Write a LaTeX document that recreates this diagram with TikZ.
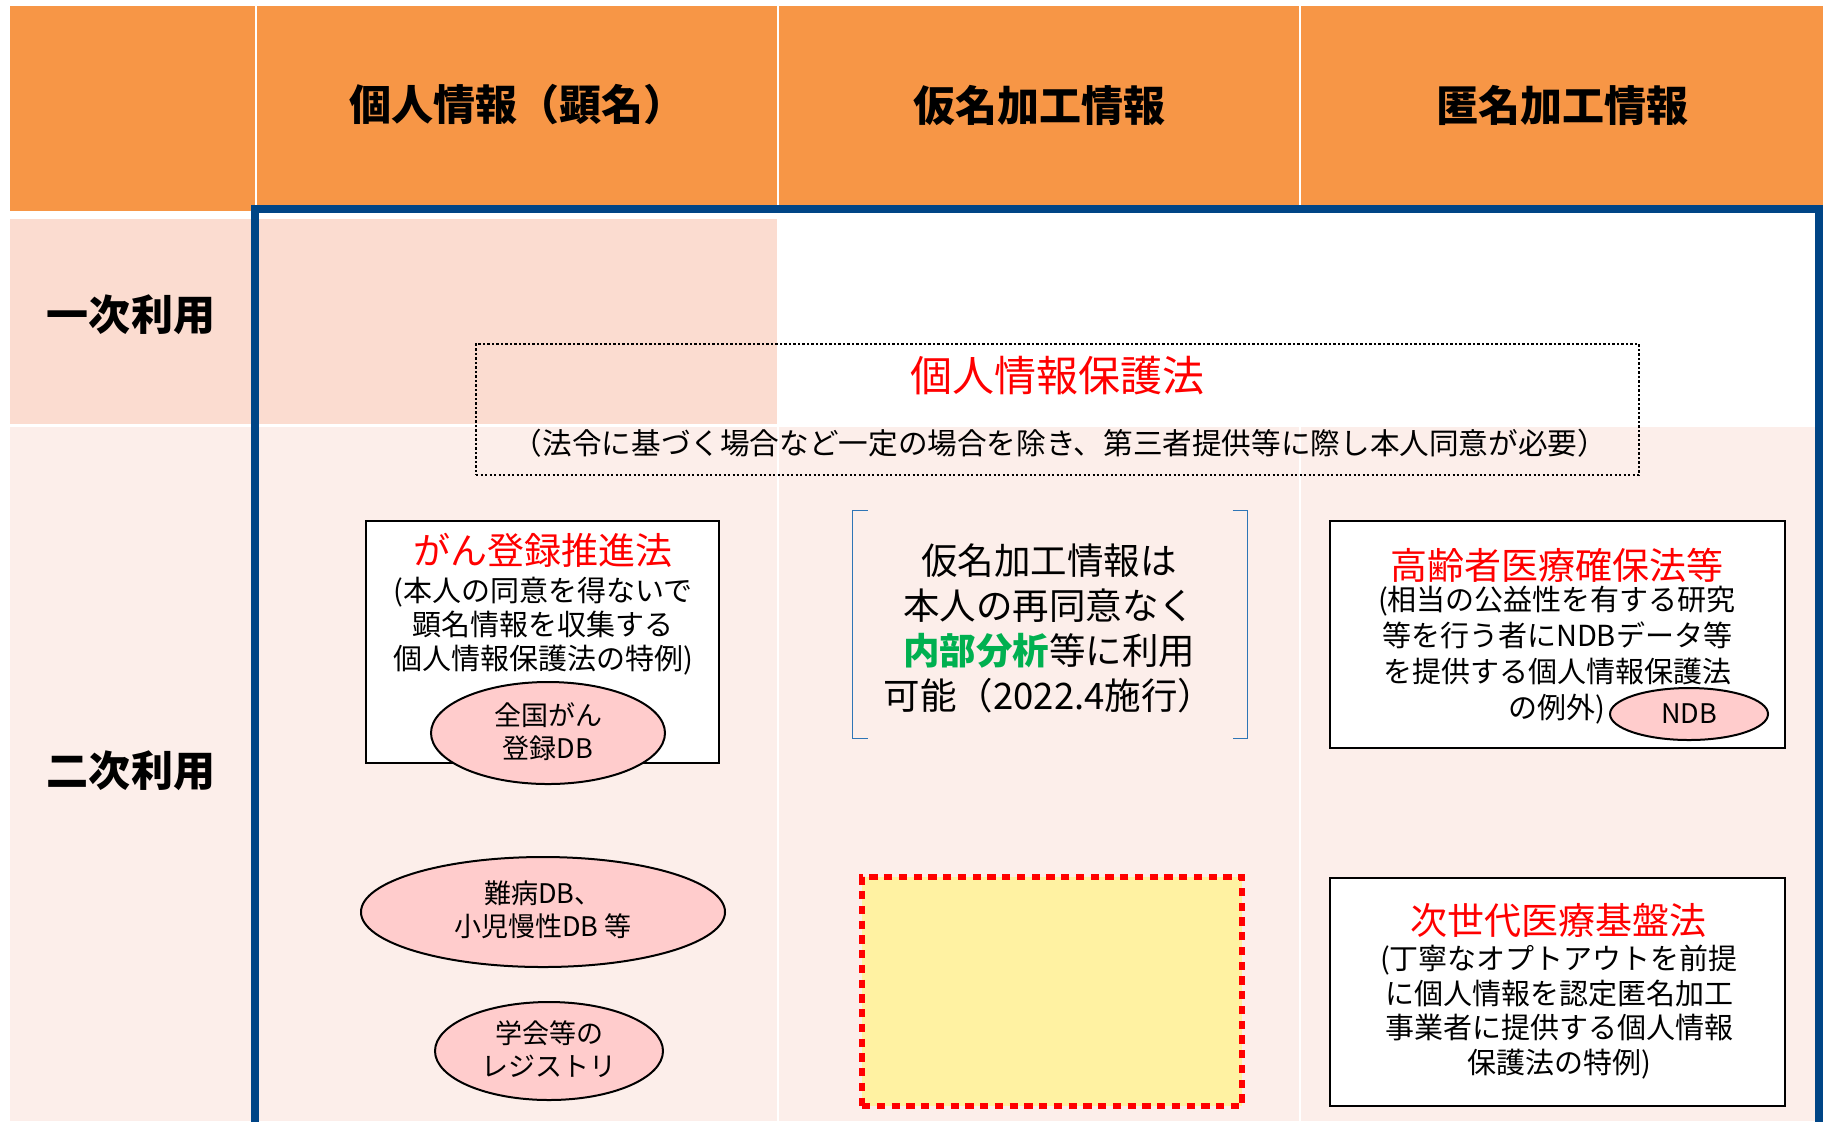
\documentclass[tikz,border=0pt]{standalone}
\usepackage{fontspec}
\setmainfont{Noto Sans CJK JP}
\usetikzlibrary{shapes.geometric}
\definecolor{hdrorange}{HTML}{F79646}
\definecolor{salmon}{HTML}{FBDCD0}
\definecolor{pinkbg}{HTML}{FCEEEA}
\definecolor{borderblue}{RGB}{0,69,134}
\definecolor{dbpink}{HTML}{FFCCCC}
\definecolor{lightyellow}{HTML}{FFF2A2}
\definecolor{lawred}{RGB}{255,0,0}
\definecolor{anagreen}{RGB}{0,176,80}
\definecolor{brkblue}{HTML}{2E75B6}
\tikzset{
  hdrtext/.style={inner sep=0, font=\bfseries\fontsize{16.8}{20}\selectfont},
  redtitle/.style={inner sep=0, text=lawred, font=\fontsize{14.8}{17}\selectfont},
  bodytext/.style={inner sep=0, align=center, font=\fontsize{11.6}{14.4}\selectfont},
  lawbox/.style={draw=black, line width=1pt, fill=white, inner sep=0},
  dbell/.style={ellipse, draw=black, line width=0.8pt, fill=dbpink, inner sep=0},
  dbtext/.style={inner sep=0, align=center, font=\fontsize{10.8}{13.4}\selectfont},
}
\begin{document}
\begin{tikzpicture}[x=0.4pt,y=-0.4pt]
\useasboundingbox (0,0) rectangle (1823,1121);
% header band
\fill[hdrorange] (10,6) rectangle (255,211);
\fill[hdrorange] (257,6) rectangle (777,211);
\fill[hdrorange] (779,6) rectangle (1299,211);
\fill[hdrorange] (1301,6) rectangle (1823,211);
% row 1
\fill[salmon] (10,219) rectangle (253,424);
\fill[salmon] (257,219) rectangle (777,424);
% row 2
\fill[pinkbg] (10,427) rectangle (254,1121);
\fill[pinkbg] (257,427) rectangle (777,1121);
\fill[pinkbg] (779,427) rectangle (1299,1121);
\fill[pinkbg] (1301,427) rectangle (1823,1121);
% blue frame
\draw[borderblue, line width=3pt] (255,1125) -- (255,209) -- (1819,209) -- (1819,1125);
% header texts
\node[hdrtext] (h1) at (517,105) {個人情報（顕名）};
\node[hdrtext] (h2) at (1039,105) {仮名加工情報};
\node[hdrtext] (h3) at (1562,105) {匿名加工情報};
\node[hdrtext] (r1) at (131,315) {一次利用};
\node[hdrtext] (r2) at (131,771) {二次利用};
% personal information protection law box
\node[draw=black, line width=0.6pt, dash pattern=on 0.9pt off 0.9pt, minimum width=465.2pt, minimum height=52.4pt, inner sep=0] (ppl) at (1057.5,409.5) {};
\node[inner sep=0, text=lawred, font=\fontsize{16.8}{20}\selectfont] (pplt) at (1057,376) {個人情報保護法};
\node[inner sep=0, font=\fontsize{11.85}{14}\selectfont] (ppls) at (1060,443) {（法令に基づく場合など一定の場合を除き、第三者提供等に際し本人同意が必要）};
% cancer registry law
\node[lawbox, minimum width=141.2pt, minimum height=96.8pt] (gan) at (542.5,642) {};
\node[redtitle] (gant) at (543,550) {がん登録推進法};
\node[bodytext, font=\fontsize{11.6}{13.6}\selectfont] (ganb) at (543,626) {(本人の同意を得ないで\\顕名情報を収集する\\個人情報保護法の特例)};
\node[dbell, minimum width=93.6pt, minimum height=40.8pt] (zenkoku) at (548,733) {};
\node[dbtext, font=\fontsize{10.8}{13.2}\selectfont] (zenkokut) at (548,731.5) {全国がん\\登録DB};
% other DBs
\node[dbell, minimum width=145.6pt, minimum height=44pt] (nanbyo) at (543,912) {};
\node[dbtext] (nanbyot) at (543,910) {難病DB、\\小児慢性DB 等};
\node[dbell, minimum width=91.2pt, minimum height=39.2pt] (gakkai) at (549,1051) {};
\node[dbtext] (gakkait) at (549,1049) {学会等の\\レジストリ};
% pseudonymized info bracket
\node[inner sep=0, minimum width=157.6pt, minimum height=90.8pt] (brk) at (1050,624.5) {};
\draw[brkblue, line width=0.7pt] ([xshift=6pt]brk.north west) -- (brk.north west) -- (brk.south west) -- ([xshift=6pt]brk.south west);
\draw[brkblue, line width=0.7pt] ([xshift=-6pt]brk.north east) -- (brk.north east) -- (brk.south east) -- ([xshift=-6pt]brk.south east);
\node[inner sep=0, align=center, font=\fontsize{14.6}{18}\selectfont] (brkt) at (1049,628) {仮名加工情報は\\本人の再同意なく\\{\bfseries\color{anagreen}内部分析}等に利用\\可能（2022.4施行）};
% yellow dotted box
\node[draw=lawred, fill=lightyellow, line width=2.6pt, dash pattern=on 3.3pt off 2.6pt, minimum width=152pt, minimum height=91.6pt, inner sep=0] (yel) at (1052,991.5) {};
% elderly medical care law
\node[lawbox, minimum width=182pt, minimum height=90.8pt] (kouki) at (1557.5,634.5) {};
\node[redtitle] (koukit) at (1557,565) {高齢者医療確保法等};
\node[bodytext] (koukib) at (1557,655.5) {(相当の公益性を有する研究\\等を行う者にNDBデータ等\\を提供する個人情報保護法\\の例外)};
\node[dbell, minimum width=63.2pt, minimum height=20.8pt] (ndb) at (1689,714) {};
\node[dbtext] (ndbt) at (1689,714) {NDB};
% next-generation medical infrastructure law
\node[lawbox, minimum width=182pt, minimum height=91.2pt] (jisedai) at (1557.5,992) {};
\node[redtitle] (jisedait) at (1558,920) {次世代医療基盤法};
\node[bodytext, font=\fontsize{11.6}{13.9}\selectfont] (jisedaib) at (1559,1012) {(丁寧なオプトアウトを前提\\に個人情報を認定匿名加工\\事業者に提供する個人情報\\保護法の特例)};
\end{tikzpicture}
\end{document}
